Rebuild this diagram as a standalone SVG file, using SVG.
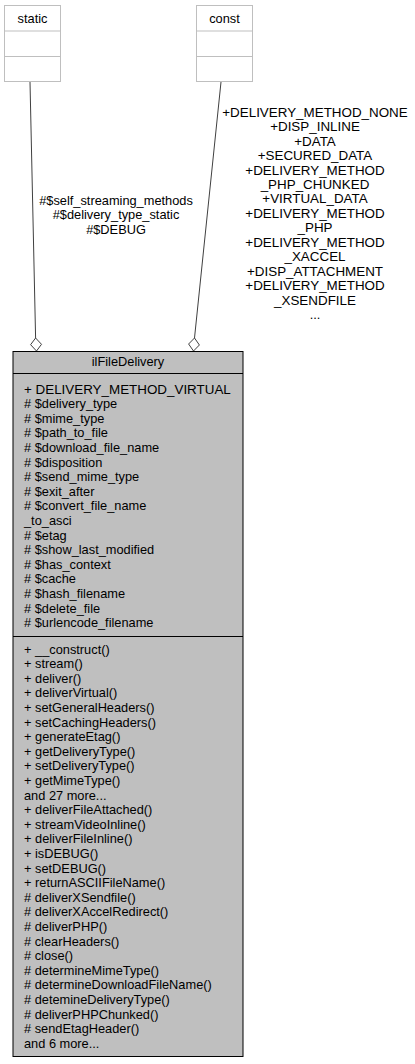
<svg xmlns="http://www.w3.org/2000/svg" width="415" height="1064" viewBox="0 0 415 1064">
<style>
text{font-family:"Liberation Sans",Arial,sans-serif;font-size:12.8px;fill:#000}
.c{text-anchor:middle}
.caps{font-size:13.4px}
.small{fill:#fff;stroke:#bfbfbf;stroke-width:1}
.main{fill:#bfbfbf;stroke:#000;stroke-width:1}
.edge{fill:none;stroke:#404040;stroke-width:1}
.dia{fill:#fff;stroke:#404040;stroke-width:1}
</style>
<rect width="415" height="1064" fill="#fff"/>
<g id="node-static">
<rect class="small" x="4.5" y="5.5" width="56" height="76"/>
<line class="small" x1="4.5" y1="31" x2="60.5" y2="31"/>
<line class="small" x1="4.5" y1="56.5" x2="60.5" y2="56.5"/>
<text class="c" x="32.5" y="23">static</text>
</g>
<g id="node-const">
<rect class="small" x="196.5" y="5.5" width="56" height="76"/>
<line class="small" x1="196.5" y1="31" x2="252.5" y2="31"/>
<line class="small" x1="196.5" y1="56.5" x2="252.5" y2="56.5"/>
<text class="c" x="224.5" y="23">const</text>
</g>
<g id="connectors">
<path class="edge" d="M30,82 L35.6,338"/>
<path class="dia" d="M35.6,338 L41.5,344.3 L36.5,351 L30.6,344.7 Z"/>
<text class="c" x="116" y="204.5">#$self_streaming_methods</text>
<text class="c" x="116" y="219">#$delivery_type_static</text>
<text class="c" x="116" y="233.5">#$DEBUG</text>
<path class="edge" d="M221,82 L194.5,338"/>
<path class="dia" d="M194.5,338 L199.4,345 L193.5,351 L188.6,344 Z"/>
<g>
<text class="c caps" x="315" y="116.7">+DELIVERY_METHOD_NONE</text>
<text class="c caps" x="315" y="131.2">+DISP_INLINE</text>
<text class="c caps" x="315" y="145.6">+DATA</text>
<text class="c caps" x="315" y="160.1">+SECURED_DATA</text>
<text class="c caps" x="315" y="174.5">+DELIVERY_METHOD</text>
<text class="c caps" x="315" y="189">_PHP_CHUNKED</text>
<text class="c caps" x="315" y="203.4">+VIRTUAL_DATA</text>
<text class="c caps" x="315" y="217.9">+DELIVERY_METHOD</text>
<text class="c caps" x="315" y="232.3">_PHP</text>
<text class="c caps" x="315" y="246.8">+DELIVERY_METHOD</text>
<text class="c caps" x="315" y="261.2">_XACCEL</text>
<text class="c caps" x="315" y="275.7">+DISP_ATTACHMENT</text>
<text class="c caps" x="315" y="290.1">+DELIVERY_METHOD</text>
<text class="c caps" x="315" y="304.6">_XSENDFILE</text>
<text class="c" x="315" y="319">...</text>
</g>
</g>
<g id="node-ilFileDelivery">
<rect class="main" x="13" y="351.5" width="230" height="705"/>
<line class="main" x1="13" y1="373.5" x2="243" y2="373.5"/>
<line class="main" x1="13" y1="636.5" x2="243" y2="636.5"/>
<text class="c" x="128" y="366">ilFileDelivery</text>
<text class="caps" x="24" y="393.5">+ DELIVERY_METHOD_VIRTUAL</text>
<text x="24" y="408.1"># $delivery_type</text>
<text x="24" y="422.7"># $mime_type</text>
<text x="24" y="437.3"># $path_to_file</text>
<text x="24" y="451.9"># $download_file_name</text>
<text x="24" y="466.5"># $disposition</text>
<text x="24" y="481.1"># $send_mime_type</text>
<text x="24" y="495.7"># $exit_after</text>
<text x="24" y="510.3"># $convert_file_name</text>
<text x="24" y="524.9">_to_asci</text>
<text x="24" y="539.5"># $etag</text>
<text x="24" y="554.1"># $show_last_modified</text>
<text x="24" y="568.7"># $has_context</text>
<text x="24" y="583.3"># $cache</text>
<text x="24" y="597.9"># $hash_filename</text>
<text x="24" y="612.5"># $delete_file</text>
<text x="24" y="627.1"># $urlencode_filename</text>
<text x="24" y="653.5">+ __construct()</text>
<text x="24" y="668.1">+ stream()</text>
<text x="24" y="682.7">+ deliver()</text>
<text x="24" y="697.3">+ deliverVirtual()</text>
<text x="24" y="711.9">+ setGeneralHeaders()</text>
<text x="24" y="726.5">+ setCachingHeaders()</text>
<text x="24" y="741.1">+ generateEtag()</text>
<text x="24" y="755.7">+ getDeliveryType()</text>
<text x="24" y="770.3">+ setDeliveryType()</text>
<text x="24" y="784.9">+ getMimeType()</text>
<text x="24" y="799.5">and 27 more...</text>
<text x="24" y="814.1">+ deliverFileAttached()</text>
<text x="24" y="828.7">+ streamVideoInline()</text>
<text x="24" y="843.3">+ deliverFileInline()</text>
<text x="24" y="857.9">+ isDEBUG()</text>
<text x="24" y="872.5">+ setDEBUG()</text>
<text x="24" y="887.1">+ returnASCIIFileName()</text>
<text x="24" y="901.7"># deliverXSendfile()</text>
<text x="24" y="916.3"># deliverXAccelRedirect()</text>
<text x="24" y="930.9"># deliverPHP()</text>
<text x="24" y="945.5"># clearHeaders()</text>
<text x="24" y="960.1"># close()</text>
<text x="24" y="974.7"># determineMimeType()</text>
<text x="24" y="989.3"># determineDownloadFileName()</text>
<text x="24" y="1003.9"># detemineDeliveryType()</text>
<text x="24" y="1018.5"># deliverPHPChunked()</text>
<text x="24" y="1033.1"># sendEtagHeader()</text>
<text x="24" y="1047.7">and 6 more...</text>
</g>
</svg>
